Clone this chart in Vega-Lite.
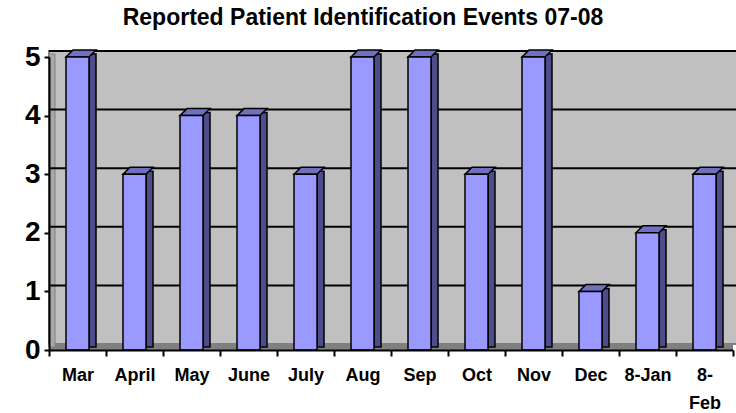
{
  "$schema": "https://vega.github.io/schema/vega-lite/v6.json",
  "width": 684,
  "height": 293,
  "autosize": "none",
  "padding": {"left": 49, "top": 57, "right": 3, "bottom": 63},
  "background": "white",
  "config": {"view": {"stroke": null}, "font": "Liberation Sans"},
  "title": {
    "text": "Reported Patient Identification Events 07-08",
    "font": "Liberation Sans",
    "fontSize": 23,
    "fontWeight": "bold",
    "color": "black",
    "anchor": "middle",
    "dx": -28,
    "offset": 13
  },
  "datasets": {
    "events": [
      {"month": "Mar", "count": 5},
      {"month": "April", "count": 3},
      {"month": "May", "count": 4},
      {"month": "June", "count": 4},
      {"month": "July", "count": 3},
      {"month": "Aug", "count": 5},
      {"month": "Sep", "count": 5},
      {"month": "Oct", "count": 3},
      {"month": "Nov", "count": 5},
      {"month": "Dec", "count": 1},
      {"month": "8-Jan", "count": 2},
      {"month": "8-Feb", "count": 3}
    ],
    "grid": [{"v": 1}, {"v": 2}, {"v": 3}, {"v": 4}, {"v": 5}],
    "wall": [{"lo": 0, "hi": 5}]
  },
  "data": {"name": "events"},
  "encoding": {
    "x": {
      "field": "month",
      "type": "nominal",
      "sort": null,
      "scale": {"paddingInner": 0, "paddingOuter": 0},
      "axis": {
        "title": null,
        "labelAngle": 0,
        "labelFont": "Liberation Sans",
        "labelFontSize": 18,
        "labelFontWeight": "bold",
        "labelColor": "black",
        "labelPadding": 10,
        "labelExpr": "datum.label == '8-Feb' ? ['8-', 'Feb'] : datum.label",
        "labelLineHeight": 28,
        "tickBand": "extent",
        "tickSize": 6,
        "tickColor": "black",
        "tickWidth": 2,
        "domainColor": "black",
        "domainWidth": 2,
        "grid": false,
        "zindex": 1
      }
    }
  },
  "layer": [
    {
      "data": {"name": "wall"},
      "mark": {"type": "rect", "fill": "#C0C0C0", "stroke": "#808080", "strokeWidth": 2, "xOffset": 6, "x2Offset": 10, "yOffset": -6, "y2Offset": -6},
      "encoding": {
        "x": null,
        "y": {"field": "hi", "type": "quantitative"},
        "y2": {"field": "lo"}
      }
    },
    {
      "data": {"name": "wall"},
      "mark": {"type": "rect", "fill": "#808080", "yOffset": -6},
      "encoding": {
        "x": null,
        "y": {"field": "lo", "type": "quantitative"},
        "y2": {"field": "lo"}
      }
    },
    {
      "data": {"name": "wall"},
      "mark": {"type": "rect", "fill": "#A8A8A8", "stroke": "#808080", "strokeWidth": 1, "x2Offset": 6, "yOffset": -3, "y2Offset": -3},
      "encoding": {
        "x": {"datum": "Mar", "bandPosition": 0},
        "x2": {"datum": "Mar", "bandPosition": 0},
        "y": {"field": "hi", "type": "quantitative"},
        "y2": {"field": "lo"}
      }
    },
    {
      "data": {"name": "grid"},
      "mark": {"type": "rule", "stroke": "black", "strokeWidth": 2, "xOffset": 6, "yOffset": -6},
      "encoding": {
        "x": null,
        "y": {"field": "v", "type": "quantitative"}
      }
    },
    {
      "mark": {"type": "bar", "width": 7, "xOffset": 15, "yOffset": -3, "fill": "#4D4D8C", "stroke": "black", "strokeWidth": 1.5},
      "encoding": {
        "y": {"field": "count", "type": "quantitative"}
      }
    },
    {
      "mark": {"type": "point", "shape": "M-1,0.2333L0.5333,0.2333L1,-0.2333L-0.5333,-0.2333Z", "size": 900, "xOffset": 3.5, "yOffset": -3.5, "filled": true, "fill": "#7070C0", "stroke": "black", "strokeWidth": 1.5, "opacity": 1},
      "encoding": {
        "y": {"field": "count", "type": "quantitative"}
      }
    },
    {
      "mark": {"type": "bar", "width": 23, "fill": "#9999FF", "stroke": "black", "strokeWidth": 1.5},
      "encoding": {
        "y": {
          "field": "count",
          "type": "quantitative",
          "scale": {"domain": [0, 5], "nice": false},
          "axis": {
            "title": null,
            "values": [0, 1, 2, 3, 4, 5],
            "format": "d",
            "labelFont": "Liberation Sans",
            "labelFontSize": 28,
            "labelFontWeight": "bold",
            "labelColor": "black",
            "labelPadding": 4,
            "tickSize": 5,
            "tickColor": "black",
            "tickWidth": 2,
            "domainColor": "black",
            "domainWidth": 2,
            "grid": false,
            "zindex": 1
          }
        }
      }
    }
  ]
}
